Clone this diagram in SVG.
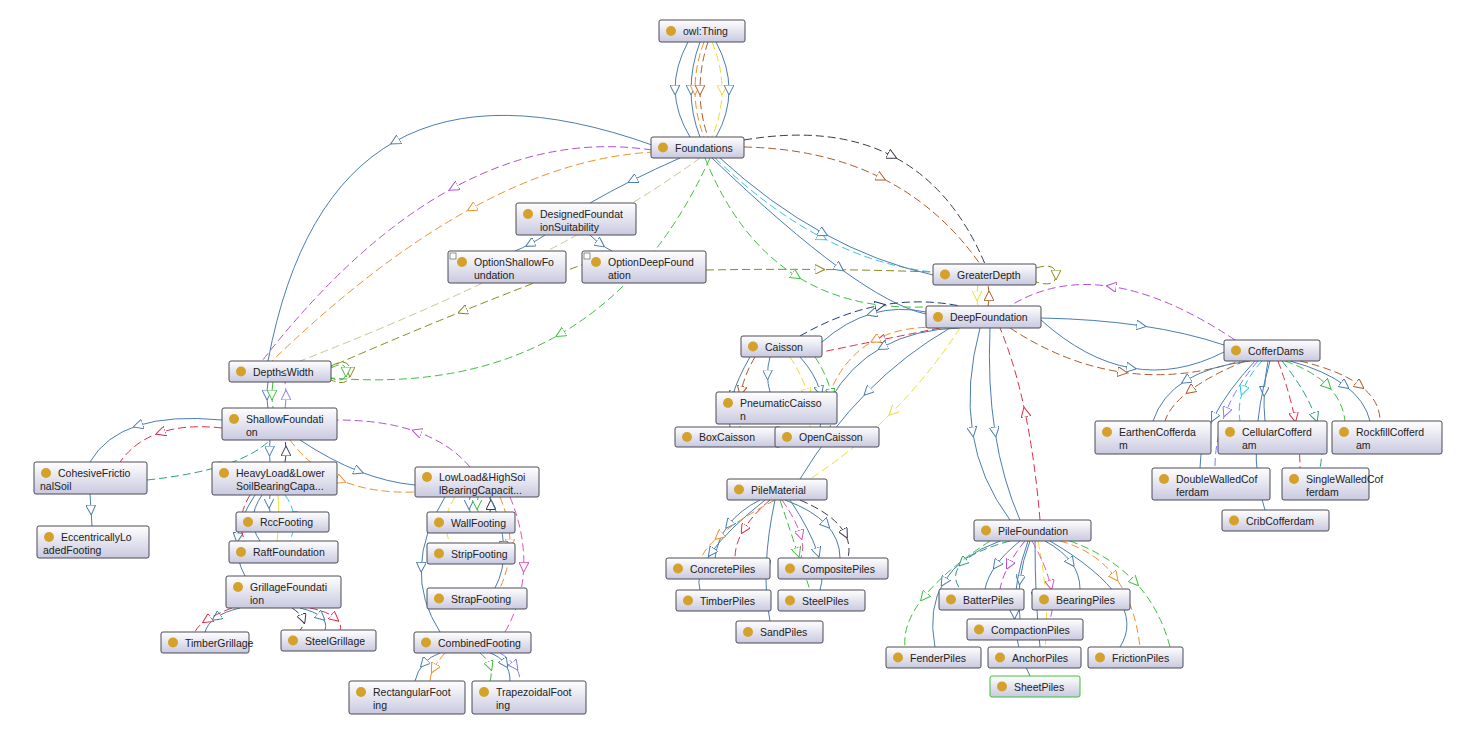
<svg xmlns="http://www.w3.org/2000/svg" width="1472" height="745" viewBox="0 0 1472 745">
<style>
.n rect.bx{fill:url(#gr);stroke:#4a4a55;stroke-width:1}
.n circle{fill:#d4a22a}
.n text{font-family:"Liberation Sans",Arial,sans-serif;font-size:10.5px;fill:#222}
path{fill:none;stroke-width:1}
.d{stroke-dasharray:8 4}
.b{stroke:#4a7eb0;marker-mid:url(#mb)}
.pu{stroke:#b34fd6;marker-mid:url(#mpu)}
.o{stroke:#f0902a;marker-mid:url(#mo)}
.br{stroke:#b05a2a;marker-mid:url(#mbr)}
.c{stroke:#2ec8e8;marker-mid:url(#mc)}
.g{stroke:#3cc03c;marker-mid:url(#mg)}
.k{stroke:#3a3a4a;marker-mid:url(#mk)}
.ol{stroke:#8a8a1a;marker-mid:url(#mol)}
.lo{stroke:#c8c890;marker-mid:url(#mlo)}
.y{stroke:#e8e030;marker-mid:url(#my)}
.r{stroke:#e0304a;marker-mid:url(#mr)}
.t{stroke:#2aa080;marker-mid:url(#mt)}
.v{stroke:#8a7af0;marker-mid:url(#mv)}
.m{stroke:#e050c0;marker-mid:url(#mm)}
.nv{stroke:#203a7a;marker-mid:url(#mnv)}
marker path{fill:#fff;stroke-width:1;stroke-dasharray:none}
</style>
<defs>
<linearGradient id="gr" x1="0" y1="0" x2="0" y2="1"><stop offset="0" stop-color="#ffffff"/><stop offset="1" stop-color="#c9c9e0"/></linearGradient>
<marker id="mb" viewBox="0 0 10 10" refX="5" refY="5" markerWidth="10" markerHeight="10" markerUnits="userSpaceOnUse" orient="auto"><path d="M0,0L10,5L0,10z" stroke="#4a7eb0"/></marker>
<marker id="mpu" viewBox="0 0 10 10" refX="5" refY="5" markerWidth="10" markerHeight="10" markerUnits="userSpaceOnUse" orient="auto"><path d="M0,0L10,5L0,10z" stroke="#b34fd6"/></marker>
<marker id="mo" viewBox="0 0 10 10" refX="5" refY="5" markerWidth="10" markerHeight="10" markerUnits="userSpaceOnUse" orient="auto"><path d="M0,0L10,5L0,10z" stroke="#f0902a"/></marker>
<marker id="mbr" viewBox="0 0 10 10" refX="5" refY="5" markerWidth="10" markerHeight="10" markerUnits="userSpaceOnUse" orient="auto"><path d="M0,0L10,5L0,10z" stroke="#b05a2a"/></marker>
<marker id="mc" viewBox="0 0 10 10" refX="5" refY="5" markerWidth="10" markerHeight="10" markerUnits="userSpaceOnUse" orient="auto"><path d="M0,0L10,5L0,10z" stroke="#2ec8e8"/></marker>
<marker id="mg" viewBox="0 0 10 10" refX="5" refY="5" markerWidth="10" markerHeight="10" markerUnits="userSpaceOnUse" orient="auto"><path d="M0,0L10,5L0,10z" stroke="#3cc03c"/></marker>
<marker id="mk" viewBox="0 0 10 10" refX="5" refY="5" markerWidth="10" markerHeight="10" markerUnits="userSpaceOnUse" orient="auto"><path d="M0,0L10,5L0,10z" stroke="#3a3a4a"/></marker>
<marker id="mol" viewBox="0 0 10 10" refX="5" refY="5" markerWidth="10" markerHeight="10" markerUnits="userSpaceOnUse" orient="auto"><path d="M0,0L10,5L0,10z" stroke="#8a8a1a"/></marker>
<marker id="mlo" viewBox="0 0 10 10" refX="5" refY="5" markerWidth="10" markerHeight="10" markerUnits="userSpaceOnUse" orient="auto"><path d="M0,0L10,5L0,10z" stroke="#c8c890"/></marker>
<marker id="my" viewBox="0 0 10 10" refX="5" refY="5" markerWidth="10" markerHeight="10" markerUnits="userSpaceOnUse" orient="auto"><path d="M0,0L10,5L0,10z" stroke="#e8e030"/></marker>
<marker id="mr" viewBox="0 0 10 10" refX="5" refY="5" markerWidth="10" markerHeight="10" markerUnits="userSpaceOnUse" orient="auto"><path d="M0,0L10,5L0,10z" stroke="#e0304a"/></marker>
<marker id="mt" viewBox="0 0 10 10" refX="5" refY="5" markerWidth="10" markerHeight="10" markerUnits="userSpaceOnUse" orient="auto"><path d="M0,0L10,5L0,10z" stroke="#2aa080"/></marker>
<marker id="mv" viewBox="0 0 10 10" refX="5" refY="5" markerWidth="10" markerHeight="10" markerUnits="userSpaceOnUse" orient="auto"><path d="M0,0L10,5L0,10z" stroke="#8a7af0"/></marker>
<marker id="mm" viewBox="0 0 10 10" refX="5" refY="5" markerWidth="10" markerHeight="10" markerUnits="userSpaceOnUse" orient="auto"><path d="M0,0L10,5L0,10z" stroke="#e050c0"/></marker>
<marker id="mnv" viewBox="0 0 10 10" refX="5" refY="5" markerWidth="10" markerHeight="10" markerUnits="userSpaceOnUse" orient="auto"><path d="M0,0L10,5L0,10z" stroke="#203a7a"/></marker>
</defs>
<rect width="1472" height="745" fill="#fff"/>
<g id="connectors">
<path class="b" d="M688 42Q675 66 675 90Q676 114 690 137"/>
<path class="b" d="M700 42Q691 66 691 90Q691 114 700 137"/>
<path class="o d" d="M704 42Q695 66 695 90Q695 114 704 137"/>
<path class="br d" d="M708 42Q700 66 700 90Q700 114 708 137"/>
<path class="y d" d="M712 42Q722 66 722 90Q722 114 712 137"/>
<path class="b" d="M716 42Q729 66 729 90Q729 114 716 137"/>
<path class="b" d="M652 145Q491 87.5 395 141.5Q299 195.5 268 361"/>
<path class="pu d" d="M652 150Q551 135 453.5 187.75Q356 240.5 262 361"/>
<path class="o d" d="M655 152Q567.5 156 471.75 208.25Q376 260.5 272 361"/>
<path class="lo d" d="M700 158Q630 209 530 259.75Q430 310.5 300 361"/>
<path class="g d" d="M710 158Q655 279 560.25 334Q465.5 389 331 378"/>
<path class="b" d="M680 158Q655 169 632.5 180.25Q610 191.5 590 203"/>
<path class="b" d="M545 235Q537.5 240 530 244Q522.5 248 515 251"/>
<path class="b" d="M590 235Q595 240 600.5 244Q606 248 612 251"/>
<path class="ol d" d="M600 258Q530 284 462.5 311.25Q395 338.5 330 367"/>
<path class="ol d" d="M706 270Q763 269 819.75 269.5Q876.5 270 933 272"/>
<path class="ol d" d="M331 366Q350 356 350 372Q350 388 331 380"/>
<path class="g d" d="M331 368Q346 360 346 372Q346 384 331 378"/>
<path class="br d" d="M744 147Q822 148.5 881 177.75Q940 207 980 264"/>
<path class="k d" d="M744 140Q832 125 892.25 156Q952.5 187 985 264"/>
<path class="c d" d="M715 158Q767.5 209 822 237.5Q876.5 266 933 272"/>
<path class="b" d="M712 158Q786 229 839.5 268Q893 307 926 314"/>
<path class="b" d="M720 158Q770 204 823.25 233.25Q876.5 262.5 933 275"/>
<path class="g d" d="M705 158Q737.5 239 796.25 276Q855 313 940 306"/>
<path class="ol d" d="M1036 268Q1056 262 1056 275Q1056 288 1036 282"/>
<path class="y d" d="M978 285Q977 290.5 977 295.75Q977 301 978 306"/>
<path class="br d" d="M988 306Q989 301 989 295.75Q989 290.5 988 285"/>
<path class="b" d="M1041 320Q1085.5 360 1131.25 368Q1177 376 1224 352"/>
<path class="br d" d="M1010 328Q1065 364 1122.5 372.25Q1180 380.5 1240 361"/>
<path class="pu d" d="M1235 340Q1167.5 295 1111.25 286.5Q1055 278 1010 306"/>
<path class="b" d="M1041 318Q1095.5 319 1141.25 325.75Q1187 332.5 1224 345"/>
<path class="b" d="M926 312Q898 306 872 313.5Q846 321 822 342"/>
<path class="nv d" d="M800 336Q840 313 880 305.5Q920 298 960 306"/>
<path class="r d" d="M940 328Q910 334 880.5 340Q851 346 822 352"/>
<path class="o d" d="M950 328Q905 324 875 340Q845 356 830 392"/>
<path class="b" d="M960 328Q915 329 882.5 347Q850 365 830 400"/>
<path class="b" d="M950 328Q905 354 867.5 391.75Q830 429.5 800 479"/>
<path class="y d" d="M960 328Q930 374 892.5 411.75Q855 449.5 810 479"/>
<path class="b" d="M980 328Q965 384 972.5 432Q980 480 1010 520"/>
<path class="b" d="M990 328Q987.5 384 995 432Q1002.5 480 1020 520"/>
<path class="r d" d="M1040 520Q1035 460 1025 412Q1015 364 1000 328"/>
<path class="b" d="M750 357Q737.5 378.5 732.5 396Q727.5 413.5 730 427"/>
<path class="b" d="M770 357Q767.5 366 767.5 374.75Q767.5 383.5 770 392"/>
<path class="b" d="M800 357Q815 373.5 820 391Q825 408.5 820 427"/>
<path class="y d" d="M790 357Q802.5 376 807.5 393.5Q812.5 411 810 427"/>
<path class="g d" d="M815 357Q827.5 376 831.25 393.5Q835 411 830 427"/>
<path class="br d" d="M755 357Q745 373.5 741.25 391Q737.5 408.5 740 427"/>
<path class="b" d="M760 500Q740 510 728.75 524.5Q717.5 539 715 558"/>
<path class="r d" d="M770 500Q752.5 515 743.75 529.5Q735 544 735 558"/>
<path class="b" d="M765 500Q727.5 530 711.25 552.5Q695 575 700 590"/>
<path class="b" d="M775 500Q767.5 535 766.25 565.25Q765 595.5 770 621"/>
<path class="b" d="M785 500Q812.5 510 826.25 524.5Q840 539 840 558"/>
<path class="k d" d="M800 500Q835 515 845 533.75Q855 552.5 840 575"/>
<path class="b" d="M790 500Q810 530 817.5 552.5Q825 575 820 590"/>
<path class="g d" d="M780 500Q790 530 797.5 552.5Q805 575 810 590"/>
<path class="o d" d="M775 500Q737.5 520 718.75 536.25Q700 552.5 700 565"/>
<path class="m d" d="M782 500Q796 520 800.5 535Q805 550 800 560"/>
<path class="b" d="M1000 541Q960 555.5 943.75 582Q927.5 608.5 935 647"/>
<path class="t d" d="M1010 541Q975 550.5 962.5 562.5Q950 574.5 960 589"/>
<path class="b" d="M1020 541Q1005 553 996.25 565Q987.5 577 985 589"/>
<path class="pu d" d="M1025 541Q1015 553 1008.75 565Q1002.5 577 1000 589"/>
<path class="b" d="M1030 541Q1022.5 560.5 1020 580Q1017.5 599.5 1020 619"/>
<path class="b" d="M1035 541Q1035 570.5 1036.25 597Q1037.5 623.5 1040 647"/>
<path class="b" d="M1045 541Q1062.5 550.5 1071.25 562.5Q1080 574.5 1080 589"/>
<path class="o d" d="M1060 541Q1095 550.5 1115 577Q1135 603.5 1140 647"/>
<path class="g d" d="M1070 541Q1110 555.5 1135 582Q1160 608.5 1170 647"/>
<path class="b" d="M1050 541Q1100 570.5 1117.5 597Q1135 623.5 1120 647"/>
<path class="b" d="M1028 541Q1014 580.5 1014.5 614.25Q1015 648 1030 676"/>
<path class="y d" d="M1038 541Q1044 570.5 1045.75 597Q1047.5 623.5 1045 647"/>
<path class="m d" d="M1032 541Q1046 565.5 1050.5 585Q1055 604.5 1050 619"/>
<path class="g d" d="M990 541Q945 570.5 923.75 597Q902.5 623.5 905 647"/>
<path class="b" d="M1250 361Q1210 365.5 1185.75 380.5Q1161.5 395.5 1153 421"/>
<path class="br d" d="M1245 361Q1210 375.5 1190 390.5Q1170 405.5 1165 421"/>
<path class="b" d="M1255 361Q1227.5 390.5 1213.75 417.25Q1200 444 1200 468"/>
<path class="v d" d="M1258 361Q1236.5 385.5 1225.75 412.25Q1215 439 1215 468"/>
<path class="c d" d="M1262 361Q1248.5 375.5 1243 390.5Q1237.5 405.5 1240 421"/>
<path class="b" d="M1268 361Q1265 376.5 1264.25 391.5Q1263.5 406.5 1265 421"/>
<path class="b" d="M1270 361Q1257.5 405.5 1256.25 442.75Q1255 480 1265 510"/>
<path class="r d" d="M1278 361Q1289 390.5 1294.5 417.25Q1300 444 1300 468"/>
<path class="g d" d="M1285 361Q1312.5 370.5 1327.5 385.5Q1342.5 400.5 1345 421"/>
<path class="b" d="M1290 361Q1325 370.5 1345 385.5Q1365 400.5 1370 421"/>
<path class="br d" d="M1300 361Q1340 370.5 1360 385.5Q1380 400.5 1380 421"/>
<path class="t d" d="M1282 361Q1306 390.5 1315.5 417.25Q1325 444 1320 468"/>
<path class="b" d="M268 382Q267 388.5 267 395Q267 401.5 268 408"/>
<path class="g d" d="M273 382Q272 388.5 272 395Q272 401.5 273 408"/>
<path class="v d" d="M285 408Q286 401.5 286 395Q286 388.5 285 382"/>
<path class="b" d="M222 420Q171 415 138 425.5Q105 436 90 462"/>
<path class="r d" d="M222 428Q186 424 160.5 432.5Q135 441 120 462"/>
<path class="t d" d="M147 480Q193.5 475 224.25 465Q255 455 270 440"/>
<path class="b" d="M90 494Q90.5 502 91 510Q91.5 518 92 526"/>
<path class="b" d="M270 440Q269.5 445.5 269.5 451Q269.5 456.5 270 462"/>
<path class="k d" d="M285 462Q286 456.5 286 451Q286 445.5 285 440"/>
<path class="b" d="M300 440Q330 460 358.75 471.25Q387.5 482.5 415 485"/>
<path class="o d" d="M290 440Q310 467.5 341.25 480.5Q372.5 493.5 415 492"/>
<path class="pu d" d="M470 467Q450 443.5 416.75 431.75Q383.5 420 337 420"/>
<path class="b" d="M270 495Q269 503.5 269 503.5Q269 503.5 270 512"/>
<path class="b" d="M262 495Q253.5 507.5 253 519Q252.5 530.5 260 541"/>
<path class="b" d="M255 495Q240 517.5 237.5 537.75Q235 558 245 576"/>
<path class="r d" d="M250 495Q242.5 507.5 241.25 519Q240 530.5 245 541"/>
<path class="c d" d="M285 495Q292.5 505 293.75 516.5Q295 528 290 541"/>
<path class="y" style="marker-mid:none" d="M278 495Q280 520 277 541"/>
<path class="b" d="M240 608Q225 611.5 216.25 617.5Q207.5 623.5 205 632"/>
<path class="r d" d="M232 608Q216 614 206.75 620Q197.5 626 195 632"/>
<path class="b" d="M300 608Q315 611.5 321.25 617Q327.5 622.5 325 630"/>
<path class="k d" d="M292 608Q301 614 303 619Q305 625 300 630"/>
<path class="r d" d="M310 608Q327.5 611.5 335 618Q342.5 624 340 630"/>
<path class="b" d="M470 497Q469 504.5 469 504.5Q469 504.5 470 512"/>
<path class="g d" d="M478 497Q477 504.5 477 504.5Q477 504.5 478 512"/>
<path class="k d" d="M490 512Q491 504.5 491 504.5Q491 504.5 490 497"/>
<path class="b" d="M445 497Q422.5 533.5 421.25 567.25Q420 601 440 632"/>
<path class="y d" d="M455 497Q447.5 508.5 446.25 520Q445 531.5 450 543"/>
<path class="o d" d="M500 497Q510 521 510 543.75Q510 566 500 588"/>
<path class="b" d="M490 497Q502.5 523.5 503.75 546.25Q505 569 495 588"/>
<path class="m d" d="M510 497Q525 533.5 523.75 567.25Q522.5 601 505 632"/>
<path class="b" d="M440 653Q430 656.5 423.75 663.5Q417.5 670.5 415 681"/>
<path class="o d" d="M445 653Q437.5 661.5 433.75 668.5Q430 675.5 430 681"/>
<path class="b" d="M490 653Q500 656.5 505 663.5Q510 670.5 510 681"/>
<path class="g d" d="M480 653Q487.5 659 490 666Q492.5 673 490 681"/>
<path class="v d" d="M500 653Q510 659 515 666Q520 673 520 681"/>
</g>
<g id="nodes">
<g id="n-owlThing" class="n"><rect class="bx" x="659" y="20" width="86" height="22" rx="2"/><circle cx="671" cy="31" r="5"/><text x="683" y="35">owl:Thing</text></g>
<g id="n-Foundations" class="n"><rect class="bx" x="651" y="137" width="93" height="21" rx="2"/><circle cx="663" cy="147.5" r="5"/><text x="675" y="151.5">Foundations</text></g>
<g id="n-DFS" class="n"><rect class="bx" x="516" y="203" width="120" height="32" rx="2"/><circle cx="528" cy="214" r="5"/><text x="540" y="218">DesignedFoundat</text><text x="540" y="231">ionSuitability</text></g>
<g id="n-OptShallow" class="n"><rect class="bx" x="448" y="251" width="118" height="32" rx="2"/><rect x="450" y="253" width="6" height="6" fill="#fff" stroke="#666" stroke-width="0.7"/><circle cx="462" cy="262" r="5"/><text x="474" y="266">OptionShallowFo</text><text x="474" y="279">undation</text></g>
<g id="n-OptDeep" class="n"><rect class="bx" x="582" y="251" width="124" height="32" rx="2"/><rect x="584" y="253" width="6" height="6" fill="#fff" stroke="#666" stroke-width="0.7"/><circle cx="596" cy="262" r="5"/><text x="608" y="266">OptionDeepFound</text><text x="608" y="279">ation</text></g>
<g id="n-GreaterDepth" class="n"><rect class="bx" x="933" y="264" width="103" height="21" rx="2"/><circle cx="945" cy="274.5" r="5"/><text x="957" y="278.5">GreaterDepth</text></g>
<g id="n-DeepFoundation" class="n"><rect class="bx" x="926" y="306" width="115" height="22" rx="2"/><circle cx="938" cy="317" r="5"/><text x="950" y="321">DeepFoundation</text></g>
<g id="n-DepthWidth" class="n"><rect class="bx" x="229" y="361" width="102" height="21" rx="2"/><circle cx="241" cy="371.5" r="5"/><text x="253" y="375.5">Depth≤Width</text></g>
<g id="n-Shallow" class="n"><rect class="bx" x="222" y="408" width="115" height="32" rx="2"/><circle cx="234" cy="419" r="5"/><text x="246" y="423">ShallowFoundati</text><text x="246" y="436">on</text></g>
<g id="n-Cohesive" class="n"><rect class="bx" x="34" y="462" width="113" height="32" rx="2"/><circle cx="46" cy="473" r="5"/><text x="58" y="477">CohesiveFrictio</text><text x="40" y="490">nalSoil</text></g>
<g id="n-Eccentric" class="n"><rect class="bx" x="37" y="526" width="112" height="32" rx="2"/><circle cx="49" cy="537" r="5"/><text x="61" y="541">EccentricallyLo</text><text x="43" y="554">adedFooting</text></g>
<g id="n-Heavy" class="n"><rect class="bx" x="212" y="462" width="125" height="33" rx="2"/><circle cx="224" cy="473" r="5"/><text x="236" y="477">HeavyLoad&amp;Lower</text><text x="236" y="490">SoilBearingCapa...</text></g>
<g id="n-LowLoad" class="n"><rect class="bx" x="415" y="467" width="124" height="30" rx="2"/><circle cx="427" cy="477" r="5"/><text x="439" y="481">LowLoad&amp;HighSoi</text><text x="439" y="494">lBearingCapacit...</text></g>
<g id="n-Rcc" class="n"><rect class="bx" x="236" y="512" width="93" height="20" rx="2"/><circle cx="248" cy="522" r="5"/><text x="260" y="526">RccFooting</text></g>
<g id="n-Raft" class="n"><rect class="bx" x="229" y="541" width="109" height="22" rx="2"/><circle cx="241" cy="552" r="5"/><text x="253" y="556">RaftFoundation</text></g>
<g id="n-Grillage" class="n"><rect class="bx" x="226" y="576" width="115" height="32" rx="2"/><circle cx="238" cy="587" r="5"/><text x="250" y="591">GrillageFoundati</text><text x="250" y="604">ion</text></g>
<g id="n-TimberGrillage" class="n"><rect class="bx" x="161" y="632" width="88" height="21" rx="2"/><circle cx="173" cy="642.5" r="5"/><text x="185" y="646.5">TimberGrillage</text></g>
<g id="n-SteelGrillage" class="n"><rect class="bx" x="281" y="630" width="95" height="21" rx="2"/><circle cx="293" cy="640.5" r="5"/><text x="305" y="644.5">SteelGrillage</text></g>
<g id="n-Wall" class="n"><rect class="bx" x="427" y="512" width="88" height="21" rx="2"/><circle cx="439" cy="522.5" r="5"/><text x="451" y="526.5">WallFooting</text></g>
<g id="n-Strip" class="n"><rect class="bx" x="427" y="543" width="88" height="21" rx="2"/><circle cx="439" cy="553.5" r="5"/><text x="451" y="557.5">StripFooting</text></g>
<g id="n-Strap" class="n"><rect class="bx" x="427" y="588" width="100" height="21" rx="2"/><circle cx="439" cy="598.5" r="5"/><text x="451" y="602.5">StrapFooting</text></g>
<g id="n-Combined" class="n"><rect class="bx" x="414" y="632" width="117" height="21" rx="2"/><circle cx="426" cy="642.5" r="5"/><text x="438" y="646.5">CombinedFooting</text></g>
<g id="n-Rect" class="n"><rect class="bx" x="349" y="681" width="116" height="33" rx="2"/><circle cx="361" cy="692" r="5"/><text x="373" y="696">RectangularFoot</text><text x="373" y="709">ing</text></g>
<g id="n-Trap" class="n"><rect class="bx" x="472" y="681" width="114" height="33" rx="2"/><circle cx="484" cy="692" r="5"/><text x="496" y="696">TrapezoidalFoot</text><text x="496" y="709">ing</text></g>
<g id="n-Caisson" class="n"><rect class="bx" x="741" y="336" width="81" height="21" rx="2"/><circle cx="753" cy="346.5" r="5"/><text x="765" y="350.5">Caisson</text></g>
<g id="n-Pneumatic" class="n"><rect class="bx" x="716" y="392" width="121" height="32" rx="2"/><circle cx="728" cy="403" r="5"/><text x="740" y="407">PneumaticCaisso</text><text x="740" y="420">n</text></g>
<g id="n-Box" class="n"><rect class="bx" x="675" y="427" width="106" height="20" rx="2"/><circle cx="687" cy="437" r="5"/><text x="699" y="441">BoxCaisson</text></g>
<g id="n-Open" class="n"><rect class="bx" x="775" y="427" width="104" height="20" rx="2"/><circle cx="787" cy="437" r="5"/><text x="799" y="441">OpenCaisson</text></g>
<g id="n-PileMaterial" class="n"><rect class="bx" x="727" y="479" width="100" height="21" rx="2"/><circle cx="739" cy="489.5" r="5"/><text x="751" y="493.5">PileMaterial</text></g>
<g id="n-Concrete" class="n"><rect class="bx" x="666" y="558" width="104" height="21" rx="2"/><circle cx="678" cy="568.5" r="5"/><text x="690" y="572.5">ConcretePiles</text></g>
<g id="n-Composite" class="n"><rect class="bx" x="778" y="558" width="110" height="21" rx="2"/><circle cx="790" cy="568.5" r="5"/><text x="802" y="572.5">CompositePiles</text></g>
<g id="n-TimberPiles" class="n"><rect class="bx" x="676" y="590" width="95" height="21" rx="2"/><circle cx="688" cy="600.5" r="5"/><text x="700" y="604.5">TimberPiles</text></g>
<g id="n-SteelPiles" class="n"><rect class="bx" x="778" y="590" width="87" height="21" rx="2"/><circle cx="790" cy="600.5" r="5"/><text x="802" y="604.5">SteelPiles</text></g>
<g id="n-SandPiles" class="n"><rect class="bx" x="736" y="621" width="87" height="22" rx="2"/><circle cx="748" cy="632" r="5"/><text x="760" y="636">SandPiles</text></g>
<g id="n-PileFoundation" class="n"><rect class="bx" x="974" y="520" width="117" height="21" rx="2"/><circle cx="986" cy="530.5" r="5"/><text x="998" y="534.5">PileFoundation</text></g>
<g id="n-Batter" class="n"><rect class="bx" x="939" y="589" width="85" height="21" rx="2"/><circle cx="951" cy="599.5" r="5"/><text x="963" y="603.5">BatterPiles</text></g>
<g id="n-Bearing" class="n"><rect class="bx" x="1032" y="589" width="98" height="21" rx="2"/><circle cx="1044" cy="599.5" r="5"/><text x="1056" y="603.5">BearingPiles</text></g>
<g id="n-Compaction" class="n"><rect class="bx" x="967" y="619" width="116" height="21" rx="2"/><circle cx="979" cy="629.5" r="5"/><text x="991" y="633.5">CompactionPiles</text></g>
<g id="n-Fender" class="n"><rect class="bx" x="886" y="647" width="95" height="21" rx="2"/><circle cx="898" cy="657.5" r="5"/><text x="910" y="661.5">FenderPiles</text></g>
<g id="n-Anchor" class="n"><rect class="bx" x="988" y="647" width="93" height="21" rx="2"/><circle cx="1000" cy="657.5" r="5"/><text x="1012" y="661.5">AnchorPiles</text></g>
<g id="n-Friction" class="n"><rect class="bx" x="1088" y="647" width="95" height="21" rx="2"/><circle cx="1100" cy="657.5" r="5"/><text x="1112" y="661.5">FrictionPiles</text></g>
<g id="n-Sheet" class="n"><rect class="bx" x="990" y="676" width="90" height="21" rx="2" style="stroke:#3cc03c"/><circle cx="1002" cy="686.5" r="5"/><text x="1014" y="690.5">SheetPiles</text></g>
<g id="n-CofferDams" class="n"><rect class="bx" x="1224" y="340" width="96" height="21" rx="2"/><circle cx="1236" cy="350.5" r="5"/><text x="1248" y="354.5">CofferDams</text></g>
<g id="n-Earthen" class="n"><rect class="bx" x="1095" y="421" width="116" height="33" rx="2"/><circle cx="1107" cy="432" r="5"/><text x="1119" y="436">EarthenCofferda</text><text x="1119" y="449">m</text></g>
<g id="n-Cellular" class="n"><rect class="bx" x="1218" y="421" width="109" height="33" rx="2"/><circle cx="1230" cy="432" r="5"/><text x="1242" y="436">CellularCofferd</text><text x="1242" y="449">am</text></g>
<g id="n-Rockfill" class="n"><rect class="bx" x="1332" y="421" width="110" height="33" rx="2"/><circle cx="1344" cy="432" r="5"/><text x="1356" y="436">RockfillCofferd</text><text x="1356" y="449">am</text></g>
<g id="n-Double" class="n"><rect class="bx" x="1152" y="468" width="118" height="32" rx="2"/><circle cx="1164" cy="479" r="5"/><text x="1176" y="483">DoubleWalledCof</text><text x="1176" y="496">ferdam</text></g>
<g id="n-Single" class="n"><rect class="bx" x="1282" y="468" width="87" height="32" rx="2"/><circle cx="1294" cy="479" r="5"/><text x="1306" y="483">SingleWalledCof</text><text x="1306" y="496">ferdam</text></g>
<g id="n-Crib" class="n"><rect class="bx" x="1222" y="510" width="107" height="21" rx="2"/><circle cx="1234" cy="520.5" r="5"/><text x="1246" y="524.5">CribCofferdam</text></g>
</g>
</svg>
